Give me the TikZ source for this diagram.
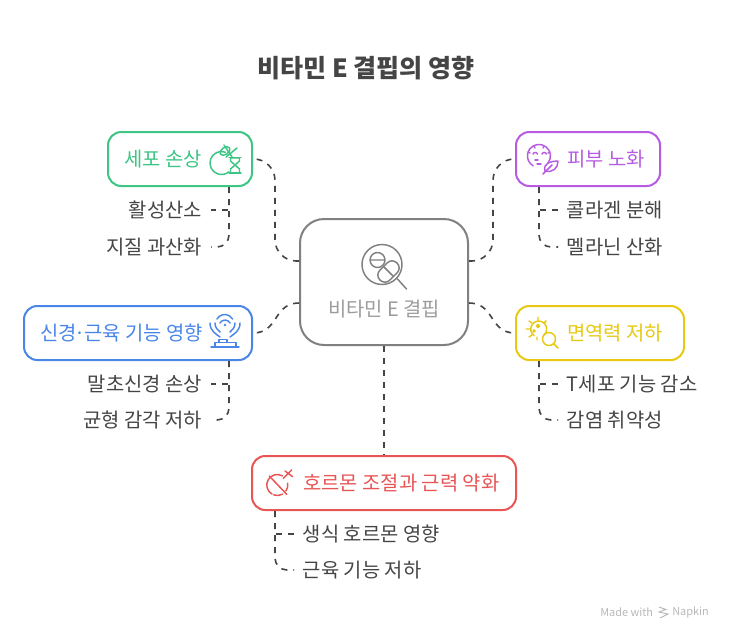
\documentclass[tikz,border=0pt]{standalone}
\usepackage{fontspec}
\setmainfont{Noto Sans CJK KR}
\usetikzlibrary{calc}
\definecolor{inkdark}{HTML}{454545}
\definecolor{inkgray}{HTML}{808080}
\definecolor{inklight}{HTML}{9C9C9C}
\definecolor{inkgreen}{HTML}{3CC583}
\definecolor{inkpurple}{HTML}{B75CE2}
\definecolor{inkblue}{HTML}{4A86E8}
\definecolor{inkyellow}{HTML}{E6C910}
\definecolor{inkred}{HTML}{E85555}
\tikzset{
  box/.style={draw=#1, line width=1.5pt, rounded corners=10pt, minimum height=40.5pt, inner sep=0pt},
  boxtext/.style={text=#1, font=\fontsize{14.9pt}{16pt}\selectfont, inner sep=0pt},
  leaf/.style={text=inkdark, font=\fontsize{14.9pt}{16pt}\selectfont, inner xsep=6.5pt, inner ysep=0pt},
  link/.style={draw=inkdark, line width=1.2pt, dash pattern=on 4.5pt off 4.5pt},
  icon/.style={draw=#1, line width=1.1pt, line cap=round, line join=round},
}
\begin{document}
\begin{tikzpicture}[x=0.75pt,y=-0.75pt]
\useasboundingbox (0,0) rectangle (732,640);
\node[text=inkdark, font=\bfseries\fontsize{18.8pt}{22pt}\selectfont, inner sep=0pt] (title) at (366,68) {비타민 E 결핍의 영향};
% boxes
\node[box=inkgray, rounded corners=18pt, minimum width=126pt, minimum height=94.5pt] (vitamin) at (384,282) {};
\node[box=inkgreen, minimum width=108pt] (cell) at (180,159) {};
\node[box=inkpurple, minimum width=108pt] (skin) at (588,159) {};
\node[box=inkblue, minimum width=171pt] (nerve) at (138,333) {};
\node[box=inkyellow, minimum width=126pt] (immune) at (600,333) {};
\node[box=inkred, minimum width=198pt] (hormone) at (384,483) {};
\node[boxtext=inklight, anchor=center] (vitamintxt) at (384,309) {비타민 E 결핍};
\node[boxtext=inkgreen, anchor=west] (celltxt) at (124,159) {세포 손상};
\node[boxtext=inkpurple, anchor=west] (skintxt) at (567,159) {피부 노화};
\node[boxtext=inkblue, anchor=west] (nervetxt) at (40,333) {신경\kern-1.4pt·\kern-1.4pt근육 기능 영향};
\node[boxtext=inkyellow, anchor=west] (immunetxt) at (567,333) {면역력 저하};
\node[boxtext=inkred, anchor=west] (hormonetxt) at (303,483) {호르몬 조절과 근력 약화};
% leaves
\node[leaf, anchor=east] (oxygen) at (211,210) {활성산소};
\node[leaf, anchor=east] (lipid) at (211,247) {지질 과산화};
\node[leaf, anchor=west] (collagen) at (558,210) {콜라겐 분해};
\node[leaf, anchor=west] (melanin) at (558,247) {멜라닌 산화};
\node[leaf, anchor=east] (axon) at (211,384) {말초신경 손상};
\node[leaf, anchor=east] (balance) at (211,420) {균형 감각 저하};
\node[leaf, anchor=west] (tcell) at (558,384) {T세포 기능 감소};
\node[leaf, anchor=west] (infect) at (558,420) {감염 취약성};
\node[leaf, anchor=west] (sexhorm) at (294,534) {생식 호르몬 영향};
\node[leaf, anchor=west] (muscle) at (294,570) {근육 기능 저하};
% links from the centre
\draw[link, rounded corners=16pt] ($(vitamin.west)+(0,-21)$) -- ++(-24,0) |- (cell.east);
\draw[link, rounded corners=16pt] ($(vitamin.east)+(0,-21)$) -- ++(24,0) |- (skin.west);
\draw[link] ($(vitamin.west)+(0,21)$) .. controls +(-26,0) and +(26,0) .. (nerve.east);
\draw[link] ($(vitamin.east)+(0,21)$) .. controls +(26,0) and +(-26,0) .. (immune.west);
\draw[link] (vitamin.south) -- (hormone.north);
% links to the leaves
\draw[link] ($(cell.south east)+(-24,0)$) |- (oxygen.east);
\draw[link, rounded corners=9pt] ($(cell.south east)+(-24,0)$) |- (lipid.east);
\draw[link] ($(skin.south west)+(24,0)$) |- (collagen.west);
\draw[link, rounded corners=9pt] ($(skin.south west)+(24,0)$) |- (melanin.west);
\draw[link] ($(nerve.south east)+(-24,0)$) |- (axon.east);
\draw[link, rounded corners=9pt] ($(nerve.south east)+(-24,0)$) |- (balance.east);
\draw[link] ($(immune.south west)+(24,0)$) |- (tcell.west);
\draw[link, rounded corners=9pt] ($(immune.south west)+(24,0)$) |- (infect.west);
\draw[link] ($(hormone.south west)+(24,0)$) |- (sexhorm.west);
\draw[link, rounded corners=9pt] ($(hormone.south west)+(24,0)$) |- (muscle.west);
% icon: vitamin
\draw[icon=inkgray] (382,264.5) circle (20);
\draw[icon=inkgray] (397.5,279) -- (406.5,289);
\draw[icon=inkgray] (377.5,260) circle (7.5) (370,260) -- (385,260);
\draw[icon=inkgray, rounded corners=5pt, rotate around={45:(388.5,271.5)}] (376.5,264.5) rectangle (400.5,278.5);
\draw[icon=inkgray] (384,267) -- (393,276);
% icon: cell
\draw[icon=inkgreen] (225.4,152.2) arc (-70:-310:11.5);
\draw[icon=inkgreen] (229,157.5) -- (241,157.5) (229,173) -- (241,173);
\draw[icon=inkgreen] (230.5,158) -- (239.5,158) -- (239.5,161) -- (230.5,169) -- (230.5,173) -- (239.5,173) -- (239.5,169) -- (230.5,161) -- cycle;
\draw[icon=inkgreen, rotate around={35:(225,151)}] (225,151) ellipse (5.5 and 3.5);
\draw[icon=inkgreen] (224,145) -- (232,157) (237,148) -- (226,157);
% icon: skin
\draw[icon=inkpurple] (548,163) arc (38:-240:11.5);
\draw[icon=inkpurple] (534,146) -- (535,148) (544,146) -- (543,148) (528,152) -- (530,153) (550,152) -- (548,153);
\draw[icon=inkpurple] (533,154) arc (-160:-20:2.5) (542,154) arc (-160:-20:2.5);
\draw[icon=inkpurple] (535,160) -- (538,160) (537,164) -- (541,164);
\draw[icon=inkpurple] (545,171) .. controls (543,163) and (551,161) .. (558,161) .. controls (558,168) and (553,173) .. (545,171);
\draw[icon=inkpurple] (543,174) -- (552,165);
% icon: nerve
\fill[inkblue] (225,325) circle (1.3);
\draw[icon=inkblue] (220,323) arc (-150:-30:5.8) (217,319) arc (-150:-30:9);
\draw[icon=inkblue] (210,323) .. controls (210,331) and (216,334) .. (220,337);
\draw[icon=inkblue] (240,323) .. controls (240,331) and (234,334) .. (230,337);
\draw[icon=inkblue] (215,323) .. controls (215,328) and (218,330) .. (220,332);
\draw[icon=inkblue] (235,323) .. controls (235,328) and (232,330) .. (230,332);
\draw[icon=inkblue] (211,347) -- (239,347);
\draw[icon=inkblue] (215,347) -- (215,342.5) -- (236,342.5) -- (236,347) (219,342.5) -- (219,339.5) -- (227,339.5) -- (227,342.5);
% icon: immune
\draw[icon=inkyellow] (544,335) arc (48:-235:8);
\draw[icon=inkyellow] (538,317) -- (538,321) (529,321) -- (532,323) (526,329) -- (530,329) (529,337) -- (532,335) (546,321) -- (544,323) (537,337) -- (537,340);
\draw[icon=inkyellow] (538,326) circle (1.5) (534,331) circle (1);
\draw[icon=inkyellow] (549,339) circle (6.5) (554,344) -- (558,348);
% icon: hormone
\draw[icon=inkred] (282.5,475.9) arc (-60:-240:10.5);
\draw[icon=inkred] (273.7,494.9) arc (110:60:10.5);
\draw[icon=inkred] (285.9,491) arc (35:-10:10.5);
\draw[icon=inkred] (269.3,476) -- (286.7,494.3);
\draw[icon=inkred] (283.3,478.3) -- (291.7,470) (285,471) -- (292.7,476.7);
% footer
\node[text=black!28, font=\fontsize{8.2pt}{10pt}\selectfont, inner sep=0pt, anchor=west] (madewith) at (600,612.5) {Made with};
\node[text=black!28, font=\fontsize{8.2pt}{10pt}\selectfont, inner sep=0pt, anchor=west] (napkin) at (672,612.5) {Napkin};
\draw[draw=black!28, line width=0.7pt] (659,607) -- (666,609.5) -- (659,612) -- (668,614) -- (660,618);
\end{tikzpicture}
\end{document}
